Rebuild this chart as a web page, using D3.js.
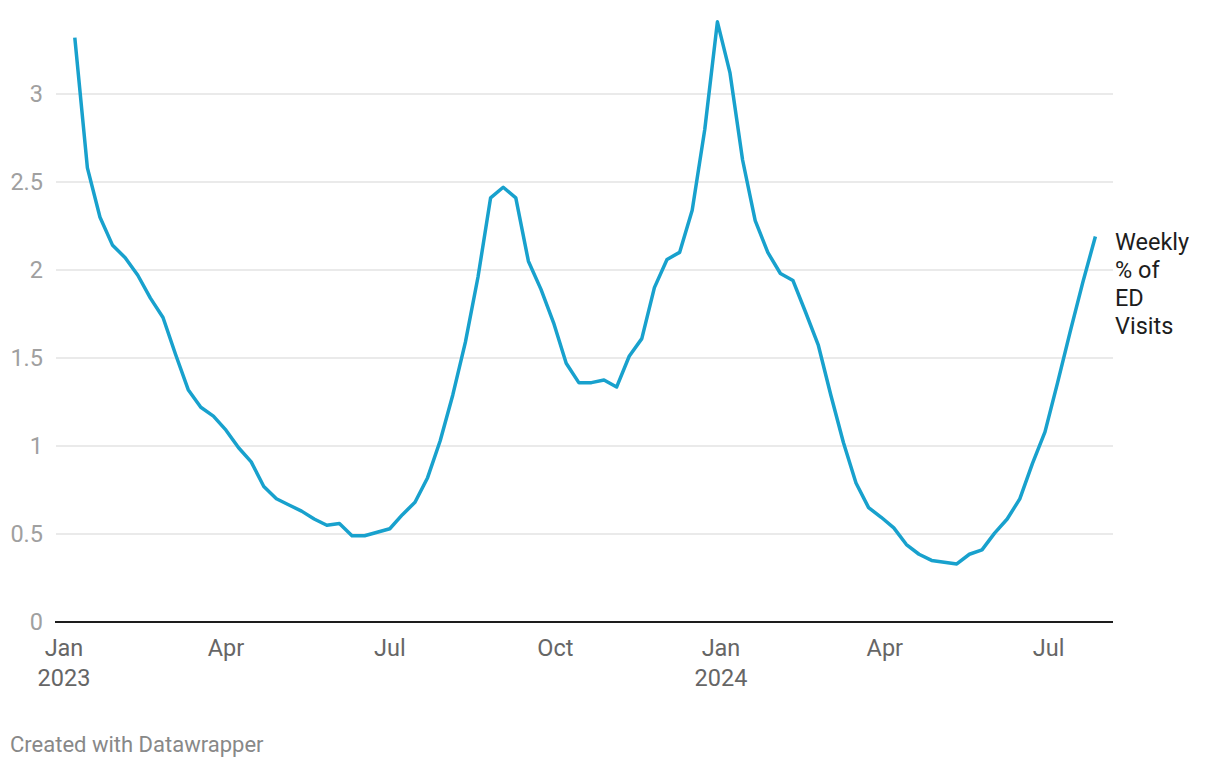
<!DOCTYPE html>
<html>
<head>
<meta charset="utf-8">
<script src="https://cdn.jsdelivr.net/npm/d3@7"></script>
<style>
  html, body { margin: 0; padding: 0; background: #fff; }
  svg { display: block; font-family: Roboto, "Noto Sans", sans-serif; }
</style>
</head>
<body>
<svg id="chart" width="1220" height="768"></svg>
<script>
// ---- Data ----
const startDate = "2023-01-07"; // first week ending
const values = [
  3.32, 2.58, 2.30, 2.14, 2.07, 1.97, 1.84, 1.73, 1.52, 1.32,
  1.22, 1.17, 1.09, 0.99, 0.91, 0.77, 0.70, 0.665, 0.63, 0.585,
  0.55, 0.56, 0.49, 0.49, 0.51, 0.53, 0.61, 0.68, 0.82, 1.03,
  1.29, 1.59, 1.96, 2.41, 2.47, 2.41, 2.05, 1.89, 1.70, 1.47,
  1.36, 1.36, 1.375, 1.335, 1.51, 1.61, 1.90, 2.06, 2.10, 2.34,
  2.80, 3.41, 3.12, 2.625, 2.28, 2.10, 1.98, 1.94, 1.76, 1.575,
  1.29, 1.02, 0.79, 0.65, 0.595, 0.535, 0.44, 0.385, 0.35, 0.34,
  0.33, 0.385, 0.41, 0.505, 0.585, 0.70, 0.90, 1.08, 1.36, 1.65,
  1.93, 2.19
];
const yTicks = [0, 0.5, 1, 1.5, 2, 2.5, 3];
const yTickLabels = ["0", "0.5", "1", "1.5", "2", "2.5", "3"];
const xTickDates = ["2023-01-01", "2023-04-01", "2023-07-01", "2023-10-01", "2024-01-01", "2024-04-01", "2024-07-01"];
const xTickLabels = [["Jan", "2023"], ["Apr"], ["Jul"], ["Oct"], ["Jan", "2024"], ["Apr"], ["Jul"]];
const seriesLabel = ["Weekly", "% of", "ED", "Visits"];
const footer = "Created with Datawrapper";

// ---- Build ----
const parse = d3.utcParse("%Y-%m-%d");
const t0 = parse(startDate);
const data = values.map((v, i) => ({ date: d3.utcDay.offset(t0, i * 7), value: v }));

const svg = d3.select("#chart");
const plotLeft = 56, plotRight = 1113;

const x = d3.scaleUtc()
  .domain([parse("2023-01-01"), parse("2024-07-27")])
  .range([64, 1095.4]);
const y = d3.scaleLinear().domain([0, 3]).range([622, 94]);

// gridlines
svg.append("g").selectAll("line")
  .data(yTicks.filter(d => d !== 0))
  .join("line")
  .attr("x1", plotLeft).attr("x2", plotRight)
  .attr("y1", d => y(d)).attr("y2", d => y(d))
  .attr("stroke", "#e3e3e3").attr("stroke-width", 1.5);

// y tick labels
svg.append("g").selectAll("text")
  .data(yTicks)
  .join("text")
  .attr("x", 43)
  .attr("y", d => y(d))
  .attr("dy", "0.36em")
  .attr("text-anchor", "end")
  .attr("fill", "#a0a0a0")
  .attr("font-size", 23.5)
  .text((d, i) => yTickLabels[i]);

// baseline
svg.append("line")
  .attr("x1", plotLeft - 1).attr("x2", plotRight)
  .attr("y1", y(0)).attr("y2", y(0))
  .attr("stroke", "#1d1d1d").attr("stroke-width", 2);

// x tick labels
const xg = svg.append("g");
xTickDates.forEach((d, i) => {
  const t = xg.append("text")
    .attr("x", x(parse(d)))
    .attr("y", 655.5)
    .attr("text-anchor", "middle")
    .attr("fill", "#666")
    .attr("font-size", 23.5);
  xTickLabels[i].forEach((s, j) => {
    t.append("tspan").attr("x", x(parse(d))).attr("dy", j === 0 ? 0 : 30).text(s);
  });
});

// line
const line = d3.line().x(d => x(d.date)).y(d => y(d.value));
svg.append("path")
  .datum(data)
  .attr("d", line)
  .attr("fill", "none")
  .attr("stroke", "#18a1cd")
  .attr("stroke-width", 3.5)
  .attr("stroke-linejoin", "round")
  .attr("stroke-linecap", "butt");

// series label
const lt = svg.append("text")
  .attr("x", 1115)
  .attr("y", 250)
  .attr("fill", "#1d1d1d")
  .attr("font-size", 23.5);
seriesLabel.forEach((s, j) => {
  lt.append("tspan").attr("x", 1115).attr("dy", j === 0 ? 0 : 28).text(s);
});

// footer
svg.append("text")
  .attr("x", 10).attr("y", 752)
  .attr("fill", "#888")
  .attr("font-size", 22)
  .text(footer);
</script>
</body>
</html>
